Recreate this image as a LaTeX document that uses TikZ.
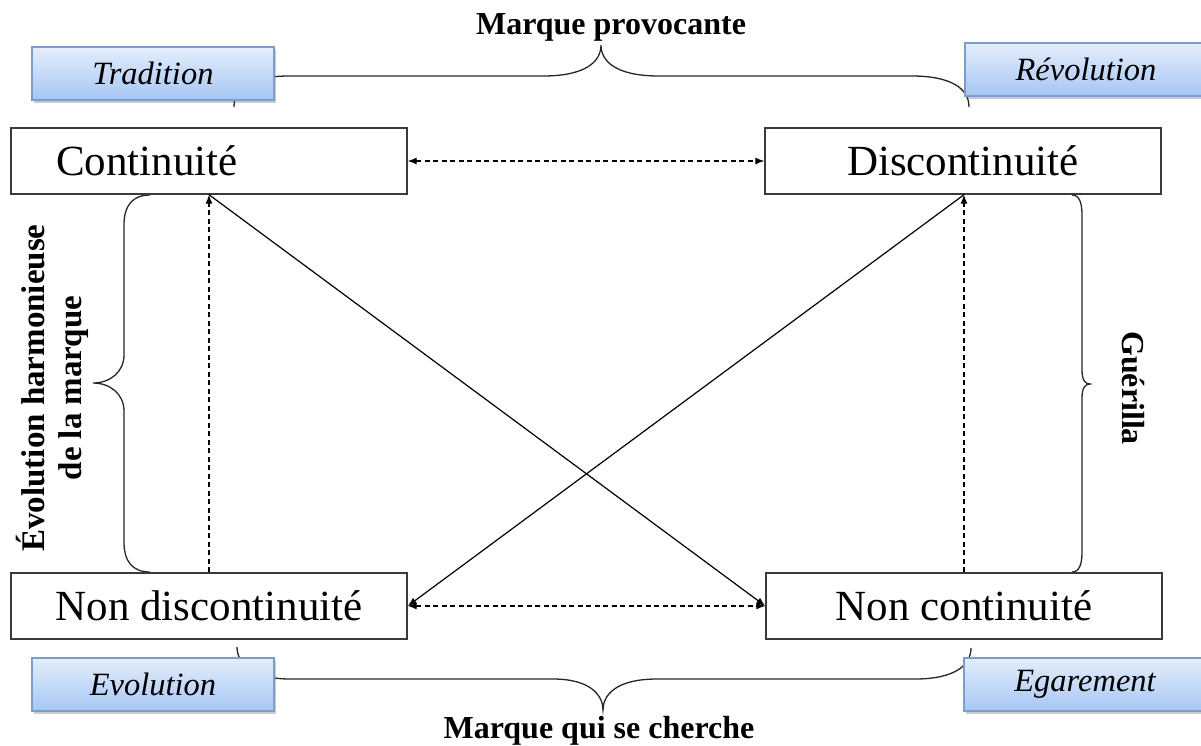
\documentclass[tikz,border=0pt]{standalone}
\usepackage{fontspec}
\setmainfont{Liberation Serif}
\usetikzlibrary{arrows.meta,shadows}
\definecolor{bluetop}{HTML}{E4EEFC}
\definecolor{bluebot}{HTML}{A6C6F3}
\definecolor{blueedge}{HTML}{7A9FCF}
\definecolor{boxedge}{HTML}{3A3A3A}
\begin{document}
\begin{tikzpicture}[x=1pt,y=-1pt,
  mainbox/.style={draw=boxedge,line width=1.4pt,fill=white,minimum width=396pt,minimum height=66pt,inner sep=0pt,font=\fontsize{43}{50}\selectfont},
  tagbox/.style={draw=blueedge,line width=1.2pt,top color=bluetop,bottom color=bluebot,minimum width=242pt,minimum height=53pt,inner sep=0pt,font=\fontsize{32.5}{38}\selectfont\itshape,drop shadow={shadow xshift=2pt,shadow yshift=-3pt,opacity=0.35,fill=black!60}},
  braceline/.style={line width=1.3pt,black!85},
  boldlab/.style={font=\fontsize{32}{37}\selectfont\bfseries,inner sep=0pt},
  dashlink/.style={line width=1.1pt,dash pattern=on 5pt off 3.5pt},
  solidlink/.style={line width=1.2pt},
  tipend/.style={-{Latex[length=9pt,width=7pt]}},
  tipboth/.style={{Latex[length=9pt,width=7pt]}-{Latex[length=9pt,width=7pt]}}
]
\useasboundingbox (0,0) rectangle (1201,745);

% braces
\draw[braceline] (234,107) .. controls (234,86) and (250,76) .. (290,76) -- (543,76)
  .. controls (585,76) and (601,62) .. (601,45)
  .. controls (601,62) and (617,76) .. (659,76) -- (912,76)
  .. controls (950,76) and (969,88) .. (969,107);
\draw[braceline] (237,647) .. controls (237,665) and (255,679) .. (290,679) -- (553,679)
  .. controls (590,679) and (603,695) .. (603,710)
  .. controls (603,695) and (616,679) .. (657,679) -- (915,679)
  .. controls (955,679) and (971,665) .. (971,648);
\draw[braceline] (150,195) .. controls (133,195) and (124,205) .. (124,225) -- (124,355)
  .. controls (124,372) and (110,383) .. (93,383)
  .. controls (110,383) and (124,394) .. (124,411) -- (124,542)
  .. controls (124,562) and (133,572) .. (150,572);
\draw[braceline] (1072,195) .. controls (1079,195) and (1082,202) .. (1082,215) -- (1082,370)
  .. controls (1082,380) and (1085,384) .. (1090,384)
  .. controls (1085,384) and (1082,388) .. (1082,398) -- (1082,552)
  .. controls (1082,565) and (1079,572) .. (1072,572);

% tag boxes
\node[tagbox] (trad) at (153,73.5) {Tradition};
\node[tagbox] (revo) at (1086,69.5) {Révolution};
\node[tagbox] (evol) at (153,684.5) {Evolution};
\node[tagbox] (egar) at (1085,684.5) {Egarement};

% main boxes
\node[mainbox] (cont) at (209,161) {Continuité\kern124pt};
\node[mainbox] (disc) at (963,161) {Discontinuité};
\node[mainbox] (ndisc) at (209,606) {Non discontinuité};
\node[mainbox] (ncont) at (964,606) {Non continuité};

% labels
\node[boldlab,anchor=base] (mprov) at (611,34) {Marque provocante};
\node[boldlab,anchor=base] (mcher) at (599,738) {Marque qui se cherche};
\node[boldlab,rotate=90,align=center,font=\fontsize{33}{37}\selectfont\bfseries] (evh) at (52,388) {Évolution harmonieuse\\de la marque};
\node[boldlab,rotate=-90] (guer) at (1133,388) {Guérilla};

% links
\draw[dashlink,tipboth] (cont.east) -- (disc.west);
\draw[dashlink,tipboth] (ndisc.east) -- (ncont.west);
\draw[dashlink,tipend] (ndisc.north) -- (cont.south);
\draw[dashlink,tipend] (ncont.north) -- (ncont.north |- disc.south);
\draw[solidlink,tipend] (cont.south) -- (ncont.west);
\draw[solidlink,tipend] (ncont.north |- disc.south) -- (ndisc.east);
\end{tikzpicture}
\end{document}
